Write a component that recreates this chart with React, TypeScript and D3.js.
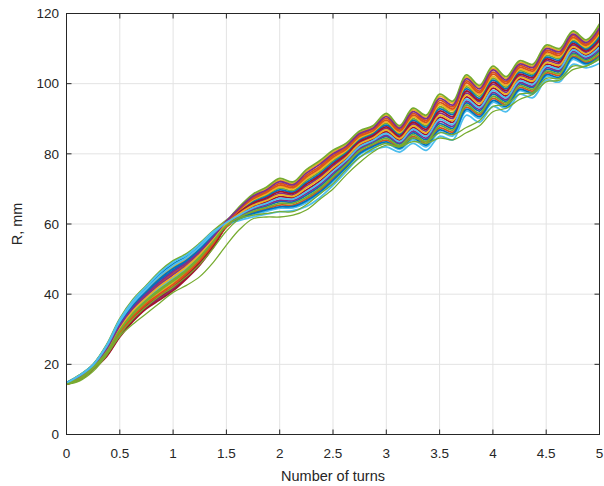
import React from "react";
import * as d3 from "d3";

// sample positions (number of turns)
const turns = [0, 0.125, 0.25, 0.375, 0.5, 0.625, 0.75, 0.875, 1, 1.125, 1.25, 1.375, 1.5, 1.625, 1.75, 1.875, 2, 2.125, 2.25, 2.375, 2.5, 2.625, 2.75, 2.875, 3, 3.125, 3.25, 3.375, 3.5, 3.625, 3.75, 3.875, 4, 4.125, 4.25, 4.375, 4.5, 4.625, 4.75, 4.875, 5];

// R, mm for each run
const run01 = [14.8, 16.9, 19.9, 25.2, 32.5, 37.9, 41.8, 45.7, 48.6, 50.8, 53.9, 57.5, 60.3, 62.2, 64.0, 65.1, 66.4, 66.3, 68.2, 70.7, 74.0, 77.4, 81.3, 83.1, 84.9, 82.8, 86.0, 84.0, 88.6, 87.3, 94.5, 92.2, 97.0, 95.0, 99.9, 98.9, 104.0, 103.4, 108.7, 106.9, 109.3];
const run02 = [14.6, 16.4, 19.4, 24.1, 30.8, 35.9, 39.7, 43.1, 45.9, 48.5, 51.9, 56.0, 60.7, 64.4, 67.5, 69.3, 71.6, 70.8, 73.9, 76.4, 79.5, 81.8, 85.4, 87.0, 90.1, 86.9, 91.5, 89.5, 95.2, 93.4, 100.8, 97.9, 103.3, 100.5, 105.1, 104.1, 109.5, 108.6, 113.7, 111.3, 115.4];
const run03 = [14.5, 16.0, 19.0, 23.1, 29.2, 34.0, 37.6, 40.6, 43.2, 46.3, 50.0, 54.5, 60.4, 64.8, 68.2, 70.1, 72.5, 71.6, 75.0, 77.5, 80.5, 82.6, 86.1, 87.7, 91.0, 87.6, 92.5, 90.5, 96.4, 94.5, 101.9, 99.0, 104.4, 101.5, 106.0, 105.0, 110.5, 109.5, 114.6, 112.1, 116.5];
const run04 = [14.4, 15.7, 18.7, 22.4, 28.1, 32.7, 36.2, 38.9, 41.4, 44.8, 48.7, 53.5, 59.5, 63.2, 65.6, 67.0, 68.7, 68.3, 70.8, 73.3, 76.5, 79.4, 83.1, 84.9, 87.2, 84.6, 88.5, 86.5, 91.6, 90.1, 97.3, 94.8, 99.8, 97.5, 102.2, 101.2, 106.5, 105.7, 111.0, 108.9, 112.1];
const run05 = [14.8, 17.0, 20.0, 25.5, 33.0, 38.5, 42.5, 46.5, 49.5, 51.5, 54.5, 58.0, 61.1, 63.8, 66.6, 68.2, 70.2, 69.5, 72.4, 74.9, 78.0, 80.6, 84.3, 85.9, 88.7, 85.8, 90.0, 88.0, 93.4, 91.7, 99.1, 96.4, 101.6, 99.0, 103.7, 102.7, 108.0, 107.2, 112.3, 110.1, 113.7];
const run06 = [14.5, 16.2, 19.2, 23.6, 30.0, 34.9, 38.7, 41.8, 44.6, 47.4, 50.9, 55.3, 59.3, 61.4, 62.7, 63.6, 64.5, 64.6, 66.1, 68.6, 72.0, 75.8, 79.8, 81.7, 83.0, 81.3, 84.0, 82.0, 86.2, 85.1, 92.2, 90.1, 94.7, 93.0, 98.0, 97.0, 102.0, 101.5, 106.9, 105.3, 107.1];
const run07 = [14.3, 15.6, 18.6, 22.2, 27.8, 32.3, 35.9, 38.4, 41.0, 44.4, 48.3, 53.3, 59.3, 62.8, 64.9, 66.3, 67.8, 67.5, 69.7, 72.2, 75.5, 78.6, 82.4, 84.2, 86.3, 83.9, 87.5, 85.5, 90.4, 89.0, 96.2, 93.7, 98.7, 96.5, 101.3, 100.3, 105.5, 104.8, 110.1, 108.1, 111.0];
const run08 = [14.7, 16.6, 19.6, 24.5, 31.4, 36.6, 40.4, 44.0, 46.8, 49.3, 52.6, 56.5, 60.5, 63.6, 66.2, 67.8, 69.7, 69.1, 71.8, 74.3, 77.5, 80.2, 83.9, 85.6, 88.2, 85.4, 89.5, 87.5, 92.8, 91.2, 98.5, 95.8, 101.0, 98.5, 103.2, 102.2, 107.5, 106.7, 111.9, 109.7, 113.2];
const run09 = [14.4, 15.8, 18.8, 22.7, 28.6, 33.3, 36.9, 39.7, 42.3, 45.5, 49.3, 54.0, 59.1, 61.8, 63.3, 64.3, 65.4, 65.4, 67.1, 69.6, 73.0, 76.6, 80.5, 82.4, 83.9, 82.0, 85.0, 83.0, 87.4, 86.2, 93.3, 91.1, 95.8, 94.0, 98.9, 97.9, 103.0, 102.4, 107.8, 106.1, 108.2];
const run10 = [14.7, 16.7, 19.7, 24.8, 31.9, 37.2, 41.1, 44.8, 47.7, 50.0, 53.2, 57.0, 60.8, 64.0, 66.9, 68.6, 70.6, 70.0, 72.9, 75.4, 78.5, 81.0, 84.6, 86.3, 89.1, 86.1, 90.5, 88.5, 94.0, 92.3, 99.6, 96.9, 102.1, 99.5, 104.1, 103.1, 108.5, 107.6, 112.8, 110.5, 114.3];
const run11 = [14.6, 16.3, 19.3, 23.9, 30.5, 35.6, 39.4, 42.7, 45.5, 48.1, 51.6, 55.8, 59.9, 62.4, 64.3, 65.5, 66.8, 66.7, 68.7, 71.2, 74.5, 77.8, 81.6, 83.5, 85.3, 83.1, 86.5, 84.5, 89.2, 87.9, 95.0, 92.7, 97.5, 95.5, 100.3, 99.3, 104.5, 103.8, 109.2, 107.3, 109.9];
const run12 = [14.5, 16.0, 19.0, 23.2, 29.4, 34.3, 38.0, 41.0, 43.7, 46.6, 50.3, 54.8, 60.5, 65.0, 68.5, 70.5, 73.0, 72.0, 75.5, 78.0, 81.0, 83.0, 86.5, 88.0, 91.5, 88.0, 93.0, 91.0, 97.0, 95.0, 102.5, 99.5, 105.0, 102.0, 106.5, 105.5, 111.0, 110.0, 115.0, 112.5, 117.0];
const run13 = [14.8, 16.9, 19.9, 25.3, 32.7, 38.2, 42.2, 46.1, 49.1, 51.1, 54.2, 57.8, 59.9, 61.0, 62.0, 62.8, 63.5, 63.8, 65.0, 67.5, 71.0, 75.0, 79.0, 81.0, 82.0, 80.5, 83.0, 81.0, 85.0, 84.0, 91.0, 89.0, 93.5, 92.0, 97.0, 96.0, 101.0, 100.5, 105.5, 104.5, 105.8];
const run14 = [14.4, 15.7, 18.7, 22.5, 28.3, 33.0, 36.6, 39.3, 41.9, 45.1, 49.0, 53.8, 59.6, 63.4, 65.9, 67.4, 69.2, 68.7, 71.3, 73.8, 77.0, 79.8, 83.5, 85.2, 87.7, 85.0, 89.0, 87.0, 92.2, 90.6, 97.9, 95.3, 100.4, 98.0, 102.7, 101.7, 107.0, 106.2, 111.4, 109.3, 112.6];
const run15 = [14.7, 16.6, 19.6, 24.6, 31.6, 36.9, 40.8, 44.4, 47.3, 49.6, 52.9, 56.8, 59.9, 61.6, 63.0, 64.0, 64.9, 65.0, 66.6, 69.1, 72.5, 76.2, 80.1, 82.1, 83.4, 81.6, 84.5, 82.5, 86.8, 85.7, 92.7, 90.6, 95.2, 93.5, 98.4, 97.4, 102.5, 101.9, 107.4, 105.7, 107.7];
const run16 = [14.4, 15.9, 18.9, 22.9, 28.9, 33.6, 37.3, 40.1, 42.8, 45.9, 49.6, 54.3, 60.1, 64.2, 67.2, 69.0, 71.1, 70.4, 73.4, 75.9, 79.0, 81.4, 85.0, 86.6, 89.6, 86.5, 91.0, 89.0, 94.6, 92.8, 100.2, 97.4, 102.7, 100.0, 104.6, 103.6, 109.0, 108.1, 113.2, 110.9, 114.8];
const run17 = [14.6, 16.3, 19.3, 23.8, 30.3, 35.3, 39.0, 42.3, 45.0, 47.8, 51.3, 55.5, 60.0, 63.0, 65.3, 66.7, 68.3, 67.9, 70.3, 72.8, 76.0, 79.0, 82.8, 84.5, 86.8, 84.3, 88.0, 86.0, 91.0, 89.5, 96.8, 94.3, 99.3, 97.0, 101.8, 100.8, 106.0, 105.3, 110.5, 108.5, 111.5];
const run18 = [14.6, 16.5, 19.5, 24.3, 31.1, 36.2, 40.1, 43.5, 46.4, 48.9, 52.2, 56.3, 60.8, 64.6, 67.9, 69.7, 72.1, 71.2, 74.5, 77.0, 80.0, 82.2, 85.8, 87.3, 90.6, 87.3, 92.0, 90.0, 95.8, 93.9, 101.4, 98.5, 103.9, 101.0, 105.6, 104.6, 110.0, 109.1, 114.1, 111.7, 115.9];
const run19 = [14.5, 16.1, 19.1, 23.4, 29.7, 34.6, 38.3, 41.4, 44.1, 47.0, 50.6, 55.0, 59.5, 62.0, 63.6, 64.7, 65.9, 65.9, 67.6, 70.1, 73.5, 77.0, 80.9, 82.8, 84.4, 82.4, 85.5, 83.5, 88.0, 86.8, 93.9, 91.6, 96.4, 94.5, 99.4, 98.4, 103.5, 102.9, 108.3, 106.5, 108.8];
const run20 = [14.7, 16.8, 19.8, 25.0, 32.2, 37.5, 41.5, 45.2, 48.2, 50.4, 53.5, 57.3, 60.4, 62.6, 64.6, 65.9, 67.3, 67.1, 69.2, 71.7, 75.0, 78.2, 82.0, 83.8, 85.8, 83.5, 87.0, 85.0, 89.8, 88.4, 95.6, 93.2, 98.1, 96.0, 100.8, 99.8, 105.0, 104.3, 109.6, 107.7, 110.4];
// two lagging runs
const run21 = [14.3, 15.3, 18.0, 22.5, 28.0, 31.5, 34.5, 37.5, 40.5, 42.5, 45.0, 49.0, 54.0, 58.5, 61.5, 62.0, 62.0, 62.5, 64.0, 67.0, 70.0, 74.0, 77.5, 80.5, 82.5, 82.0, 83.5, 83.0, 84.5, 84.0, 86.0, 88.0, 92.0, 93.0, 95.5, 97.0, 100.5, 101.0, 104.0, 105.0, 107.0];
const run22 = [14.4, 15.6, 18.6, 22.8, 28.5, 33.0, 36.5, 39.5, 42.0, 45.0, 48.5, 53.0, 58.0, 61.5, 62.5, 63.0, 63.5, 63.5, 65.5, 68.5, 71.5, 75.5, 79.0, 81.5, 83.0, 82.0, 84.5, 83.5, 86.0, 85.5, 87.5, 89.5, 93.5, 94.0, 97.0, 97.5, 101.5, 101.5, 105.0, 105.0, 107.5];

const runs = [run01, run02, run03, run04, run05, run06, run07, run08, run09, run10, run11, run12, run13, run14, run15, run16, run17, run18, run19, run20];
const laggingRuns = [run21, run22];

const xTicks = [0, 0.5, 1, 1.5, 2, 2.5, 3, 3.5, 4, 4.5, 5];
const xTickLabels = ["0", "0.5", "1", "1.5", "2", "2.5", "3", "3.5", "4", "4.5", "5"];
const yTicks = [0, 20, 40, 60, 80, 100, 120];
const yTickLabels = ["0", "20", "40", "60", "80", "100", "120"];

const xLabel = "Number of turns";
const yLabel = "R, mm";

const palette = ["#0072BD", "#D95319", "#EDB120", "#7E2F8E", "#77AC30", "#4DBEEE", "#A2142F"];
const laggingColor = "#77AC30";

export default function App() {
  const W = 604;
  const H = 486;
  const left = 66.5;
  const right = 599.5;
  const top = 13.5;
  const bottom = 434.5;

  const x = d3.scaleLinear().domain([0, 5]).range([left, right]);
  const y = d3.scaleLinear().domain([0, 120]).range([bottom, top]);

  const line = d3
    .line<number>()
    .x((_, i) => x(turns[i]))
    .y((d) => y(d))
    .curve(d3.curveCatmullRom.alpha(0.5));

  const axisColor = "#262626";
  const gridColor = "#e3e3e3";
  const font = "Liberation Sans, Arial, Helvetica, sans-serif";
  const tickLen = 5;

  return (
    <svg
      width={W}
      height={H}
      style={{ position: "absolute", left: 0, top: 0, background: "#fff" }}
    >
      <defs>
        <clipPath id="clip">
          <rect x={left} y={top - 2} width={right - left} height={bottom - top + 2} />
        </clipPath>
      </defs>
      <rect x={0} y={0} width={W} height={H} fill="#fff" />
      {/* grid */}
      {xTicks.map((t) => (
        <line key={"gx" + t} x1={x(t)} x2={x(t)} y1={top} y2={bottom} stroke={gridColor} strokeWidth={1} />
      ))}
      {yTicks.map((t) => (
        <line key={"gy" + t} x1={left} x2={right} y1={y(t)} y2={y(t)} stroke={gridColor} strokeWidth={1} />
      ))}
      {/* data */}
      <g clipPath="url(#clip)" fill="none" strokeWidth={1.8} strokeLinejoin="round">
        {runs.map((r, i) => (
          <path key={"r" + i} d={line(r) || ""} stroke={palette[i % palette.length]} />
        ))}
        {laggingRuns.map((r, i) => (
          <path key={"g" + i} d={line(r) || ""} stroke={laggingColor} strokeWidth={1.3} />
        ))}
      </g>
      {/* ticks */}
      {xTicks.map((t) => (
        <g key={"tx" + t}>
          <line x1={x(t)} x2={x(t)} y1={bottom} y2={bottom - tickLen} stroke={axisColor} />
          <line x1={x(t)} x2={x(t)} y1={top} y2={top + tickLen} stroke={axisColor} />
        </g>
      ))}
      {yTicks.map((t) => (
        <g key={"ty" + t}>
          <line x1={left} x2={left + tickLen} y1={y(t)} y2={y(t)} stroke={axisColor} />
          <line x1={right} x2={right - tickLen} y1={y(t)} y2={y(t)} stroke={axisColor} />
        </g>
      ))}
      {/* box */}
      <rect x={left} y={top} width={right - left} height={bottom - top} fill="none" stroke={axisColor} strokeWidth={1} />
      {/* tick labels */}
      {xTicks.map((t, i) => (
        <text key={"lx" + t} x={x(t)} y={458} textAnchor="middle" fontFamily={font} fontSize={13.5} fill={axisColor}>
          {xTickLabels[i]}
        </text>
      ))}
      {yTicks.map((t, i) => (
        <text key={"ly" + t} x={59} y={y(t) + 4.8} textAnchor="end" fontFamily={font} fontSize={13.5} fill={axisColor}>
          {yTickLabels[i]}
        </text>
      ))}
      <text x={(left + right) / 2} y={481} textAnchor="middle" fontFamily={font} fontSize={14.5} fill={axisColor}>
        {xLabel}
      </text>
      <text
        transform={`translate(22, ${(top + bottom) / 2}) rotate(-90)`}
        textAnchor="middle"
        fontFamily={font}
        fontSize={14.5}
        fill={axisColor}
      >
        {yLabel}
      </text>
    </svg>
  );
}
